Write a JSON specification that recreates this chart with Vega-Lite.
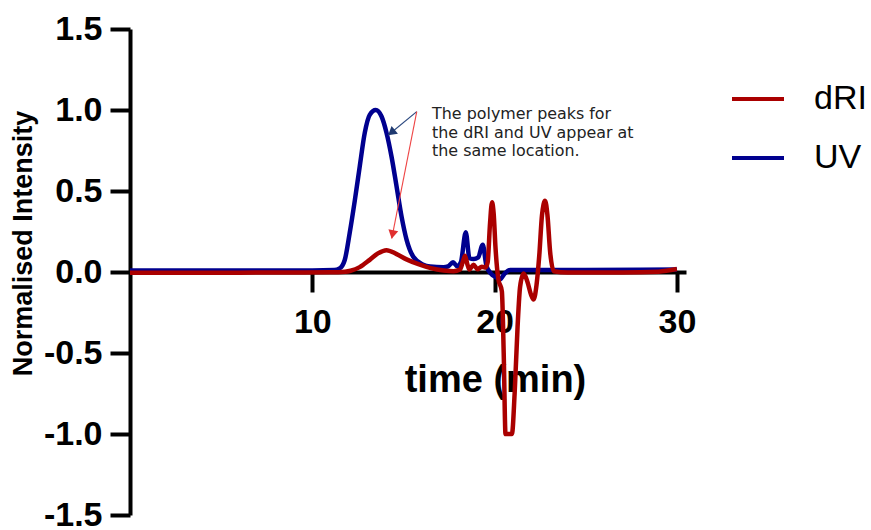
{
  "$schema": "https://vega.github.io/schema/vega-lite/v6.json",
  "width": 556,
  "height": 486,
  "autosize": {"type": "none"},
  "padding": {"left": 130, "top": 29, "right": 185, "bottom": 15},
  "background": "white",
  "config": {
    "view": {"stroke": null},
    "font": "Liberation Sans",
    "axis": {
      "grid": false,
      "domainColor": "black",
      "domainWidth": 4,
      "tickColor": "black",
      "tickWidth": 4,
      "tickSize": 20,
      "labelFont": "Liberation Sans",
      "labelFontWeight": "bold",
      "labelFontSize": 34,
      "labelColor": "black",
      "titleFont": "Liberation Sans",
      "titleFontWeight": "bold",
      "titleColor": "black"
    }
  },
  "datasets": {
    "traces": [
      {"series": "UV", "t": 0, "v": 0.01},
      {"series": "UV", "t": 5, "v": 0.01},
      {"series": "UV", "t": 10, "v": 0.01},
      {"series": "UV", "t": 11.2, "v": 0.012},
      {"series": "UV", "t": 11.5, "v": 0.022},
      {"series": "UV", "t": 11.78, "v": 0.074},
      {"series": "UV", "t": 12.05, "v": 0.24},
      {"series": "UV", "t": 12.33, "v": 0.44},
      {"series": "UV", "t": 12.6, "v": 0.65},
      {"series": "UV", "t": 12.88, "v": 0.86},
      {"series": "UV", "t": 13.15, "v": 0.97},
      {"series": "UV", "t": 13.48, "v": 1.0},
      {"series": "UV", "t": 13.8, "v": 0.96},
      {"series": "UV", "t": 14.07, "v": 0.86},
      {"series": "UV", "t": 14.35, "v": 0.71},
      {"series": "UV", "t": 14.62, "v": 0.53},
      {"series": "UV", "t": 14.9, "v": 0.34},
      {"series": "UV", "t": 15.17, "v": 0.2},
      {"series": "UV", "t": 15.54, "v": 0.094},
      {"series": "UV", "t": 16.09, "v": 0.045},
      {"series": "UV", "t": 16.46, "v": 0.034},
      {"series": "UV", "t": 17.19, "v": 0.029},
      {"series": "UV", "t": 17.45, "v": 0.035},
      {"series": "UV", "t": 17.72, "v": 0.06},
      {"series": "UV", "t": 17.95, "v": 0.035},
      {"series": "UV", "t": 18.15, "v": 0.06},
      {"series": "UV", "t": 18.42, "v": 0.245},
      {"series": "UV", "t": 18.62, "v": 0.085},
      {"series": "UV", "t": 18.85, "v": 0.08},
      {"series": "UV", "t": 19.1, "v": 0.09},
      {"series": "UV", "t": 19.35, "v": 0.168},
      {"series": "UV", "t": 19.55, "v": 0.04},
      {"series": "UV", "t": 19.8, "v": -0.01},
      {"series": "UV", "t": 20.05, "v": -0.03},
      {"series": "UV", "t": 20.3, "v": -0.045},
      {"series": "UV", "t": 20.55, "v": -0.01},
      {"series": "UV", "t": 20.85, "v": 0.012},
      {"series": "UV", "t": 25, "v": 0.013},
      {"series": "UV", "t": 30, "v": 0.016},

      {"series": "dRI", "t": 0, "v": -0.005},
      {"series": "dRI", "t": 3, "v": -0.005},
      {"series": "dRI", "t": 6, "v": -0.004},
      {"series": "dRI", "t": 9, "v": -0.003},
      {"series": "dRI", "t": 11, "v": -0.002},
      {"series": "dRI", "t": 11.8, "v": 0.002},
      {"series": "dRI", "t": 12.1, "v": 0.008},
      {"series": "dRI", "t": 12.6, "v": 0.03},
      {"series": "dRI", "t": 13.15, "v": 0.075},
      {"series": "dRI", "t": 13.6, "v": 0.115},
      {"series": "dRI", "t": 14.07, "v": 0.135},
      {"series": "dRI", "t": 14.6, "v": 0.112},
      {"series": "dRI", "t": 15.17, "v": 0.078},
      {"series": "dRI", "t": 15.9, "v": 0.045},
      {"series": "dRI", "t": 16.5, "v": 0.024},
      {"series": "dRI", "t": 17.2, "v": 0.009},
      {"series": "dRI", "t": 17.75, "v": 0.004},
      {"series": "dRI", "t": 18.1, "v": 0.015},
      {"series": "dRI", "t": 18.25, "v": 0.06},
      {"series": "dRI", "t": 18.38, "v": 0.1},
      {"series": "dRI", "t": 18.5, "v": 0.05},
      {"series": "dRI", "t": 18.62, "v": 0.015},
      {"series": "dRI", "t": 18.84, "v": 0.045},
      {"series": "dRI", "t": 19.06, "v": 0.017},
      {"series": "dRI", "t": 19.3, "v": 0.033},
      {"series": "dRI", "t": 19.5, "v": 0.028},
      {"series": "dRI", "t": 19.62, "v": 0.06},
      {"series": "dRI", "t": 19.75, "v": 0.3},
      {"series": "dRI", "t": 19.86, "v": 0.43},
      {"series": "dRI", "t": 19.95, "v": 0.36},
      {"series": "dRI", "t": 20.05, "v": 0.15},
      {"series": "dRI", "t": 20.2, "v": -0.04},
      {"series": "dRI", "t": 20.4, "v": -0.12},
      {"series": "dRI", "t": 20.5, "v": -0.5},
      {"series": "dRI", "t": 20.6, "v": -1.0},
      {"series": "dRI", "t": 20.95, "v": -1.0},
      {"series": "dRI", "t": 21.1, "v": -0.75},
      {"series": "dRI", "t": 21.26, "v": -0.34},
      {"series": "dRI", "t": 21.4, "v": -0.09},
      {"series": "dRI", "t": 21.59, "v": -0.01},
      {"series": "dRI", "t": 21.8, "v": -0.06},
      {"series": "dRI", "t": 22.0, "v": -0.14},
      {"series": "dRI", "t": 22.14, "v": -0.17},
      {"series": "dRI", "t": 22.3, "v": -0.08},
      {"series": "dRI", "t": 22.45, "v": 0.1},
      {"series": "dRI", "t": 22.6, "v": 0.35},
      {"series": "dRI", "t": 22.77, "v": 0.44},
      {"series": "dRI", "t": 22.9, "v": 0.35},
      {"series": "dRI", "t": 23.05, "v": 0.12},
      {"series": "dRI", "t": 23.25, "v": 0.005},
      {"series": "dRI", "t": 24, "v": -0.003},
      {"series": "dRI", "t": 27, "v": -0.003},
      {"series": "dRI", "t": 29, "v": 0.002},
      {"series": "dRI", "t": 30, "v": 0.018}
    ],
    "callouts": [
      {"series": "UV", "t0": 15.73, "v0": 0.99, "t1": 14.17, "v1": 0.846, "tHead": 14.34, "vHead": 0.861},
      {"series": "dRI", "t0": 15.73, "v0": 0.99, "t1": 14.36, "v1": 0.208, "tHead": 14.4, "vHead": 0.232}
    ],
    "notes": [
      {"note": "The polymer peaks for\nthe dRI and UV appear at\nthe same location.", "t": 16.57, "v": 0.944}
    ]
  },
  "layer": [
    {
      "data": {"name": "traces"},
      "transform": [{"filter": "datum.series === 'UV'"}],
      "mark": {"type": "line", "strokeWidth": 4.5, "interpolate": "monotone"},
      "encoding": {
        "x": {
          "field": "t",
          "type": "quantitative",
          "scale": {"domain": [0, 30.5], "nice": false, "zero": false},
          "axis": {
            "orient": "bottom",
            "offset": -243,
            "values": [10, 20, 30],
            "labelPadding": 13,
            "title": "time (min)",
            "titleFontSize": 38,
            "titleX": 365,
            "titleY": 119,
            "titleAlign": "center",
            "titleBaseline": "alphabetic",
            "titleAnchor": null
          }
        },
        "y": {
          "field": "v",
          "type": "quantitative",
          "scale": {"domain": [-1.5, 1.5], "nice": false, "zero": false},
          "axis": {
            "values": [-1.5, -1, -0.5, 0, 0.5, 1, 1.5],
            "labelExpr": "(datum.value < 0 ? '-' : '') + format(abs(datum.value), '.1f')",
            "labelPadding": 8,
            "title": "Normalised Intensity",
            "titleFontSize": 27,
            "titleAngle": 270,
            "titleX": -107,
            "titleY": 214,
            "titleAlign": "center",
            "titleBaseline": "middle",
            "titleAnchor": null
          }
        },
        "color": {
          "field": "series",
          "type": "nominal",
          "scale": {"domain": ["dRI", "UV"], "range": ["#aa0000", "#00008f"]},
          "legend": {
            "orient": "none",
            "legendX": 600,
            "legendY": 42,
            "title": null,
            "padding": 0,
            "symbolType": "stroke",
            "symbolSize": 2704,
            "symbolStrokeWidth": 4,
            "rowPadding": 14,
            "labelOffset": 28,
            "labelFont": "Liberation Sans",
            "labelFontSize": 34,
            "labelColor": "black"
          }
        }
      }
    },
    {
      "data": {"name": "traces"},
      "transform": [{"filter": "datum.series === 'dRI'"}],
      "mark": {"type": "line", "strokeWidth": 4.5, "interpolate": "monotone"},
      "encoding": {
        "x": {"field": "t", "type": "quantitative"},
        "y": {"field": "v", "type": "quantitative"},
        "color": {"field": "series", "type": "nominal"}
      }
    },
    {
      "data": {"name": "callouts"},
      "transform": [{"filter": "datum.series === 'UV'"}],
      "mark": {"type": "rule", "color": "#2d4a80", "strokeWidth": 1.2},
      "encoding": {
        "x": {"field": "t0", "type": "quantitative"},
        "y": {"field": "v0", "type": "quantitative"},
        "x2": {"field": "t1"},
        "y2": {"field": "v1"}
      }
    },
    {
      "data": {"name": "callouts"},
      "transform": [{"filter": "datum.series === 'dRI'"}],
      "mark": {"type": "rule", "color": "#ee4444", "strokeWidth": 1.1},
      "encoding": {
        "x": {"field": "t0", "type": "quantitative"},
        "y": {"field": "v0", "type": "quantitative"},
        "x2": {"field": "t1"},
        "y2": {"field": "v1"}
      }
    },
    {
      "data": {"name": "callouts"},
      "transform": [{"filter": "datum.series === 'UV'"}],
      "mark": {"type": "point", "shape": "triangle-up", "filled": true, "size": 100, "angle": 230.6, "color": "#1f3a70", "opacity": 1},
      "encoding": {
        "x": {"field": "tHead", "type": "quantitative"},
        "y": {"field": "vHead", "type": "quantitative"}
      }
    },
    {
      "data": {"name": "callouts"},
      "transform": [{"filter": "datum.series === 'dRI'"}],
      "mark": {"type": "point", "shape": "triangle-up", "filled": true, "size": 100, "angle": 191.2, "color": "#e03030", "opacity": 1},
      "encoding": {
        "x": {"field": "tHead", "type": "quantitative"},
        "y": {"field": "vHead", "type": "quantitative"}
      }
    },
    {
      "data": {"name": "notes"},
      "mark": {"type": "text", "font": "DejaVu Sans", "fontSize": 15.9, "lineBreak": "\n", "lineHeight": 18.5, "align": "left", "baseline": "alphabetic", "color": "#222222"},
      "encoding": {
        "x": {"field": "t", "type": "quantitative"},
        "y": {"field": "v", "type": "quantitative"},
        "text": {"field": "note"}
      }
    }
  ]
}
